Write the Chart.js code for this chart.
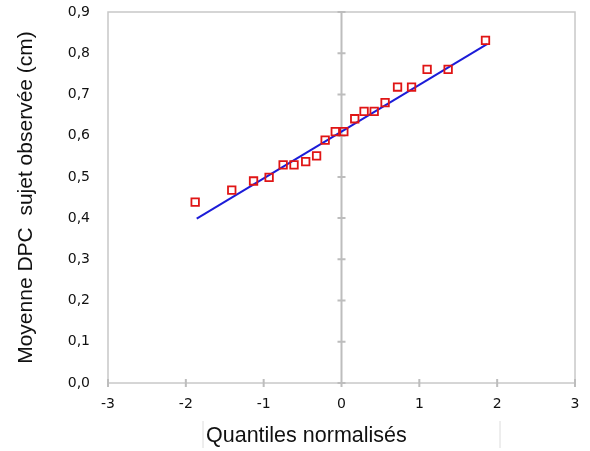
<!DOCTYPE html>
<html>
<head>
<meta charset="utf-8">
<script src="https://cdn.jsdelivr.net/npm/chart.js@4/dist/chart.umd.min.js"></script>
<style>
  html, body { margin: 0; padding: 0; background: #fff; }
  #wrap { width: 590px; height: 451px; }
</style>
</head>
<body>
<div id="wrap"><canvas id="qqChart" width="590" height="451"></canvas></div>
<script>
const quantiles = [-1.88, -1.41, -1.13, -0.93, -0.75, -0.61, -0.46, -0.32, -0.21, -0.08,
                   0.03, 0.17, 0.29, 0.42, 0.56, 0.72, 0.90, 1.10, 1.37, 1.85];
const observed = [0.439, 0.468, 0.490, 0.499, 0.529, 0.529, 0.537, 0.551, 0.589, 0.610,
                  0.610, 0.641, 0.659, 0.659, 0.680, 0.718, 0.718, 0.761, 0.761, 0.831];

// droite de référence (extrémités)
const lineX = [-1.86, 1.87];
const lineY = [0.399, 0.822];

const xTicks = [-3, -2, -1, 0, 1, 2, 3];
const yTicks = [0, 0.1, 0.2, 0.3, 0.4, 0.5, 0.6, 0.7, 0.8, 0.9];

const xTitle = 'Quantiles normalisés';
const yTitle = 'Moyenne DPC  sujet observée (cm)';

const points = quantiles.map((q, i) => ({ x: q, y: observed[i] }));
const fitLine = lineX.map((x, i) => ({ x: x, y: lineY[i] }));

// cadre, axe vertical en 0, graduations et titre de l'axe x
const framePlugin = {
    id: 'frame',
    beforeDatasetsDraw(chart) {
        const { ctx, chartArea: a, scales: { x, y } } = chart;
        ctx.save();
        ctx.strokeStyle = '#c8c8c8';
        ctx.lineWidth = 1.5;
        ctx.strokeRect(a.left, a.top, a.right - a.left, a.bottom - a.top);

        const x0 = x.getPixelForValue(0);
        ctx.strokeStyle = '#bdbdbd';
        ctx.lineWidth = 2;
        ctx.beginPath();
        ctx.moveTo(x0, a.top);
        ctx.lineTo(x0, a.bottom);
        // graduations sur l'axe x
        xTicks.forEach(v => {
            const px = x.getPixelForValue(v);
            ctx.moveTo(px, a.bottom - 4);
            ctx.lineTo(px, a.bottom + 4);
        });
        // graduations sur l'axe vertical central
        yTicks.forEach(v => {
            const py = y.getPixelForValue(v);
            ctx.moveTo(x0 - 4, py);
            ctx.lineTo(x0 + 4, py);
        });
        ctx.stroke();
        ctx.restore();
    },
    afterDraw(chart) {
        const { ctx } = chart;
        ctx.save();
        ctx.strokeStyle = '#dcdcdc';
        ctx.lineWidth = 1;
        ctx.beginPath();
        ctx.moveTo(203, 421);
        ctx.lineTo(203, 448);
        ctx.moveTo(500, 421);
        ctx.lineTo(500, 448);
        ctx.stroke();
        ctx.fillStyle = '#111';
        ctx.font = '21.5px "Liberation Sans", Arial, sans-serif';
        ctx.textAlign = 'left';
        ctx.textBaseline = 'alphabetic';
        ctx.fillText(xTitle, 206, 442);
        ctx.restore();
    }
};

new Chart(document.getElementById('qqChart').getContext('2d'), {
    type: 'scatter',
    data: {
        datasets: [
            {
                label: 'Observé',
                data: points,
                pointStyle: 'rect',
                pointRadius: 5.3,
                pointHoverRadius: 5.3,
                borderColor: '#e01515',
                backgroundColor: 'rgba(255,255,255,0)',
                pointBorderWidth: 1.8,
                order: 1
            },
            {
                label: 'Droite',
                type: 'line',
                data: fitLine,
                borderColor: '#1c1cd8',
                borderWidth: 2,
                pointRadius: 0,
                fill: false,
                order: 2
            }
        ]
    },
    options: {
        responsive: false,
        animation: false,
        layout: { padding: { top: 12, right: 15, left: 0, bottom: 0 } },
        plugins: {
            legend: { display: false },
            tooltip: { enabled: false }
        },
        scales: {
            x: {
                type: 'linear',
                min: -3,
                max: 3,
                afterFit: s => { s.height = 68; },
                afterBuildTicks: s => { s.ticks = xTicks.map(v => ({ value: v })); },
                grid: { display: true, drawOnChartArea: false, drawTicks: true, tickLength: 6, color: 'rgba(0,0,0,0)' },
                border: { display: false },
                ticks: {
                    padding: 7,
                    color: '#111',
                    font: { family: '"DejaVu Sans", Verdana, sans-serif', size: 14 },
                    callback: v => String(v)
                }
            },
            y: {
                type: 'linear',
                min: 0,
                max: 0.9,
                afterFit: s => { s.width = 108; },
                afterBuildTicks: s => { s.ticks = yTicks.map(v => ({ value: v })); },
                grid: { display: true, drawOnChartArea: false, drawTicks: true, tickLength: 18, color: 'rgba(0,0,0,0)' },
                border: { display: false },
                ticks: {
                    padding: 0,
                    color: '#111',
                    font: { family: '"DejaVu Sans", Verdana, sans-serif', size: 14 },
                    callback: v => v.toFixed(1).replace('.', ',')
                },
                title: {
                    display: true,
                    text: yTitle,
                    color: '#111',
                    font: { family: '"Liberation Sans", Arial, sans-serif', size: 21 },
                    padding: { top: 14, bottom: 0 }
                }
            }
        }
    },
    plugins: [framePlugin]
});
</script>
</body>
</html>
